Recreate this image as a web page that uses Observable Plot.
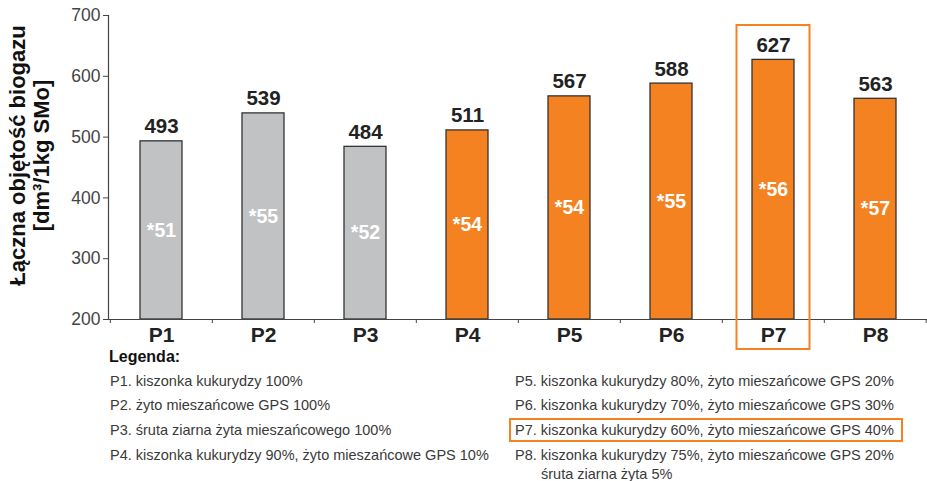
<!DOCTYPE html>
<html><head><meta charset="utf-8">
<script src="https://cdn.jsdelivr.net/npm/d3@7"></script>
<script src="https://cdn.jsdelivr.net/npm/@observablehq/plot@0.6"></script>
<style>
body{margin:0;background:#fff;font-family:"Liberation Sans",Arial,sans-serif;}
#wrap{position:relative;width:927px;height:481px;overflow:hidden;}
#chart svg{overflow:visible;display:block;}
.leg{position:absolute;font-size:14.5px;color:#3a3a3a;white-space:nowrap;line-height:21px;}
.legtitle{position:absolute;font-size:16px;font-weight:900;color:#111;line-height:1;}
.hl{position:absolute;border:2px solid #f58220;box-sizing:border-box;}
</style></head><body>
<div id="wrap"><div id="chart"></div></div>
<script>
const categories = ["P1","P2","P3","P4","P5","P6","P7","P8"];
const values = [493, 539, 484, 511, 567, 588, 627, 563];
const innerLabels = ["*51","*55","*52","*54","*54","*55","*56","*57"];
const groups = ["single","single","single","mix","mix","mix","mix","mix"];
const highlighted = "P7";
const yTicks = [200, 300, 400, 500, 600, 700];
const yLabel = "Łączna objętość biogazu\n[dm³/1kg SMo]";
const legendTitle = "Legenda:";
const legendLeft = [
  "P1. kiszonka kukurydzy 100%",
  "P2. żyto mieszańcowe GPS 100%",
  "P3. śruta ziarna żyta mieszańcowego 100%",
  "P4. kiszonka kukurydzy 90%, żyto mieszańcowe GPS 10%"
];
const legendRight = [
  "P5. kiszonka kukurydzy 80%, żyto mieszańcowe GPS 20%",
  "P6. kiszonka kukurydzy 70%, żyto mieszańcowe GPS 30%",
  "P7. kiszonka kukurydzy 60%, żyto mieszańcowe GPS 40%",
  "P8. kiszonka kukurydzy 75%, żyto mieszańcowe GPS 20%\nśruta ziarna żyta 5%"
];

const data = categories.map((c, i) => ({cat: c, value: values[i], inner: innerLabels[i], group: groups[i]}));
const W = 927, H = 350, mL = 108, mR = 0, mT = 15, mB = 31;
const yMin = yTicks[0], yMax = yTicks[yTicks.length - 1];
const step = (W - mL - mR) / categories.length;
const tickUnits = 4 * (yMax - yMin) / (H - mT - mB);
const axisColor = "#444";

const chart = Plot.plot({
  width: W, height: H,
  marginLeft: mL, marginRight: mR, marginTop: mT, marginBottom: mB,
  style: {fontFamily: "'Liberation Sans', Arial, sans-serif", background: "white"},
  x: {domain: categories, paddingInner: 0.59, paddingOuter: 0.295, label: null},
  y: {domain: [yMin, yMax], label: null},
  color: {domain: ["single", "mix"], range: ["#c1c2c4", "#f58220"]},
  marks: [
    Plot.barY(data, {x: "cat", y1: yMin, y2: "value", fill: "group", stroke: "#333", strokeWidth: 1.3}),
    Plot.ruleY([yMin], {stroke: axisColor, strokeWidth: 1.2}),
    Plot.frame({anchor: "left", stroke: axisColor, strokeWidth: 1.2}),
    Plot.ruleX(categories, {x: d => d, dx: -step / 2, y1: yMin, y2: yMin - tickUnits, stroke: axisColor, clip: false}),
    Plot.ruleX([categories[categories.length - 1]], {x: d => d, dx: step / 2 - 0.5, y1: yMin, y2: yMin - tickUnits, stroke: axisColor, clip: false}),
    Plot.axisY({ticks: yTicks, tickSize: 5, tickPadding: 3, fontSize: 17.5, stroke: axisColor, fill: "#444", label: null}),
    Plot.axisX({tickSize: 0, tickPadding: 8, fontSize: 21, fontWeight: "bold", fill: "#222", label: null}),
    Plot.text(data, {x: "cat", y: "value", text: d => String(d.value), dy: -8, lineAnchor: "bottom", fontSize: 20.5, fontWeight: "bold", fill: "#222"}),
    Plot.text(data, {x: "cat", y: d => (yMin + d.value) / 2, text: "inner", fill: "white", fontSize: 19.5, fontWeight: "bold"}),
    Plot.barY([highlighted], {x: d => d, y1: yMin, y2: yMax, fill: "none", stroke: "#f58220", strokeWidth: 2,
      insetLeft: -15.5, insetRight: -15.5, insetTop: 10, insetBottom: -30}),
    Plot.text([yLabel], {frameAnchor: "left", textAnchor: "middle", text: d => d, rotate: -90, dx: -79, dy: -12, fontSize: 22, fontWeight: "bold", fill: "#111", lineHeight: 1.1})
  ]
});
document.getElementById("chart").appendChild(chart);

const wrap = document.getElementById("wrap");
function addDiv(cls, text, left, top) {
  const d = document.createElement("div");
  d.className = cls; d.textContent = text;
  d.style.left = left + "px"; d.style.top = top + "px";
  wrap.appendChild(d); return d;
}
addDiv("legtitle", legendTitle, 109, 349);
const rowTop = 370.5, rowGap = 24.7;
legendLeft.forEach((t, i) => addDiv("leg", t, 110, rowTop + i * rowGap));
legendRight.forEach((t, i) => {
  const lines = t.split("\n");
  const d = addDiv("leg", lines[0], 515, rowTop + i * rowGap);
  if (lines[1]) {
    const s = document.createElement("div");
    s.textContent = lines[1]; s.style.paddingLeft = "26px"; s.style.lineHeight = "17px";
    d.appendChild(s);
  }
  if (t.startsWith(highlighted + ".")) {
    const b = document.createElement("div");
    b.className = "hl";
    b.style.left = "509px"; b.style.top = (rowTop + i * rowGap - 2) + "px";
    b.style.width = "394px"; b.style.height = "24px";
    wrap.appendChild(b);
  }
});
</script>
</body></html>
